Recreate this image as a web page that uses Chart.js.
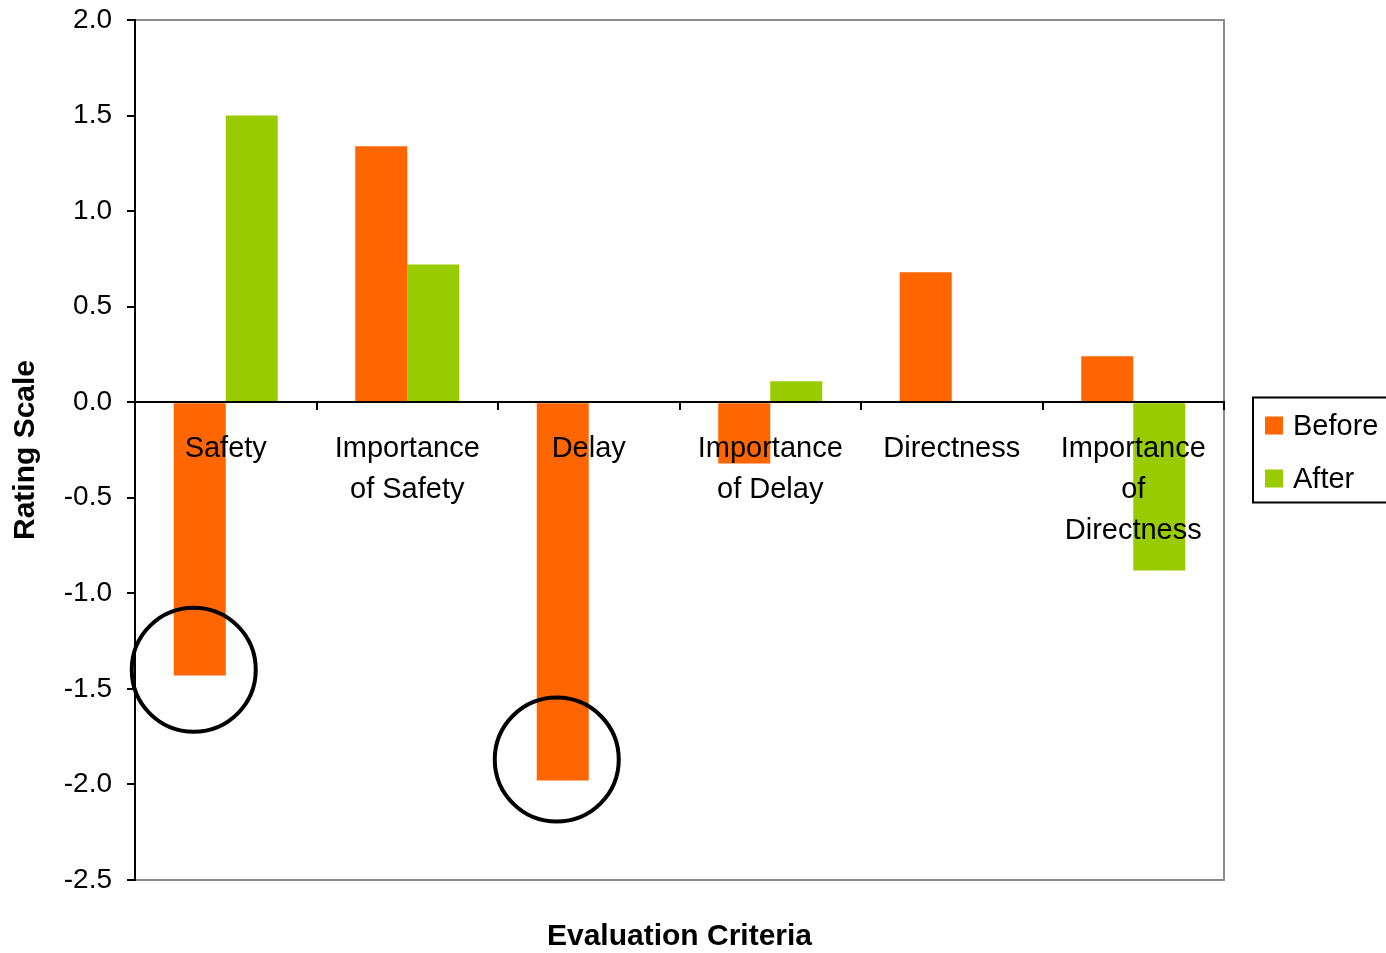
<!DOCTYPE html>
<html>
<head>
<meta charset="utf-8">
<script src="https://cdn.jsdelivr.net/npm/chart.js@4.4.1/dist/chart.umd.min.js"></script>
<style>
  html, body { margin: 0; padding: 0; background: #ffffff; }
  #wrap { width: 1386px; height: 953px; }
</style>
</head>
<body>
<div id="wrap"><canvas id="chart" width="1386" height="953"></canvas></div>
<script>
// Evaluation criteria (multi-line category labels)
const categories = [
  ['Safety'],
  ['Importance', 'of Safety'],
  ['Delay'],
  ['Importance', 'of Delay'],
  ['Directness'],
  ['Importance', 'of', 'Directness']
];
const seriesNames = ['Before', 'After'];
const beforeValues = [-1.43, 1.34, -1.98, -0.32, 0.68, 0.24];
const afterValues  = [1.50, 0.72, 0.00, 0.11, 0.00, -0.88];
const yTicks = [2.0, 1.5, 1.0, 0.5, 0.0, -0.5, -1.0, -1.5, -2.0, -2.5];

// Highlighted "Before" results (category index, rating value at ring centre)
const ringCategories = [0, 2];
const ringValues = [-1.40, -1.87];

const FONT = '"Liberation Sans", Arial, sans-serif';
const ORANGE = '#FF6600';
const GREEN = '#99CC00';

// Gray frame on the top, right and bottom of the plot area
const framePlugin = {
  id: 'frame',
  beforeDraw(chart) {
    const { ctx, chartArea: a } = chart;
    ctx.save();
    ctx.strokeStyle = '#8c8c8c';
    ctx.lineWidth = 2;
    ctx.beginPath();
    ctx.moveTo(a.left, a.top);
    ctx.lineTo(a.right, a.top);
    ctx.lineTo(a.right, a.bottom);
    ctx.lineTo(a.left, a.bottom);
    ctx.stroke();
    ctx.restore();
  }
};

// Boxed legend to the right of the plot area
const boxLegendPlugin = {
  id: 'boxLegend',
  afterDraw(chart) {
    const { ctx, chartArea: a } = chart;
    const boxLeft = a.right + 29;
    const boxH = 105;
    const boxTop = (a.top + a.bottom) / 2 - boxH / 2;
    ctx.save();
    ctx.strokeStyle = '#000';
    ctx.lineWidth = 2;
    ctx.strokeRect(boxLeft, boxTop, 160, boxH);
    ctx.font = '29px ' + FONT;
    ctx.textBaseline = 'middle';
    ctx.textAlign = 'left';
    chart.data.datasets.forEach((ds, i) => {
      const cy = boxTop + 28 + i * 53;
      ctx.fillStyle = ds.backgroundColor;
      ctx.fillRect(boxLeft + 12, cy - 9, 18, 18);
      ctx.fillStyle = '#000';
      ctx.fillText(ds.label, boxLeft + 40, cy + 1);
    });
    ctx.restore();
  }
};

// Black rings around selected "Before" bars
const ringPlugin = {
  id: 'rings',
  afterDraw(chart) {
    const { ctx } = chart;
    const meta = chart.getDatasetMeta(0);
    const yScale = chart.scales.y;
    ctx.save();
    ctx.strokeStyle = '#000';
    ctx.lineWidth = 4;
    ringCategories.forEach((ci, k) => {
      const bar = meta.data[ci];
      const cx = bar.x - 6;
      const cy = yScale.getPixelForValue(ringValues[k]);
      ctx.beginPath();
      ctx.arc(cx, cy, 62, 0, Math.PI * 2);
      ctx.stroke();
    });
    ctx.restore();
  }
};

new Chart(document.getElementById('chart'), {
  type: 'bar',
  data: {
    labels: categories,
    datasets: [
      { label: seriesNames[0], data: beforeValues, backgroundColor: ORANGE },
      { label: seriesNames[1], data: afterValues, backgroundColor: GREEN }
    ]
  },
  options: {
    responsive: false,
    animation: false,
    devicePixelRatio: 1,
    layout: { padding: { left: 0, right: 162, top: 20, bottom: 0 } },
    datasets: {
      bar: { categoryPercentage: 0.573, barPercentage: 1.0, borderWidth: 0 }
    },
    plugins: {
      legend: { display: false },
      tooltip: { enabled: false },
      title: {
        display: true,
        position: 'bottom',
        fullSize: false,
        text: 'Evaluation Criteria',
        color: '#000',
        font: { family: FONT, size: 30, weight: 'bold', lineHeight: 1.0 },
        padding: { top: 42, bottom: 1 }
      }
    },
    scales: {
      x: {
        position: { y: 0 },
        offset: true,
        grid: {
          offset: true,
          drawOnChartArea: false,
          drawTicks: true,
          tickLength: 7,
          color: '#000',
          lineWidth: 2,
          z: 1
        },
        border: { display: true, color: '#000', width: 2, z: 1 },
        ticks: {
          z: 1,
          color: '#000',
          font: { family: FONT, size: 29, lineHeight: 41 / 29 },
          padding: 19,
          maxRotation: 0,
          minRotation: 0,
          autoSkip: false
        }
      },
      y: {
        min: -2.5,
        max: 2.0,
        afterBuildTicks(scale) {
          scale.ticks = yTicks.map(v => ({ value: v }));
        },
        afterFit(scale) {
          scale.width = 135;
          scale.paddingTop = 0;
          scale.paddingBottom = 0;
        },
        grid: {
          drawOnChartArea: false,
          drawTicks: true,
          tickLength: 8,
          color: '#000',
          lineWidth: 2
        },
        border: { display: true, color: '#000', width: 2 },
        ticks: {
          color: '#000',
          font: { family: FONT, size: 28 },
          padding: 15,
          callback: v => Number(v).toFixed(1)
        },
        title: {
          display: true,
          text: 'Rating Scale',
          color: '#000',
          font: { family: FONT, size: 30, weight: 'bold', lineHeight: 1.2 },
          padding: { top: 8, bottom: 0 }
        }
      }
    }
  },
  plugins: [framePlugin, boxLegendPlugin, ringPlugin]
});
</script>
</body>
</html>
